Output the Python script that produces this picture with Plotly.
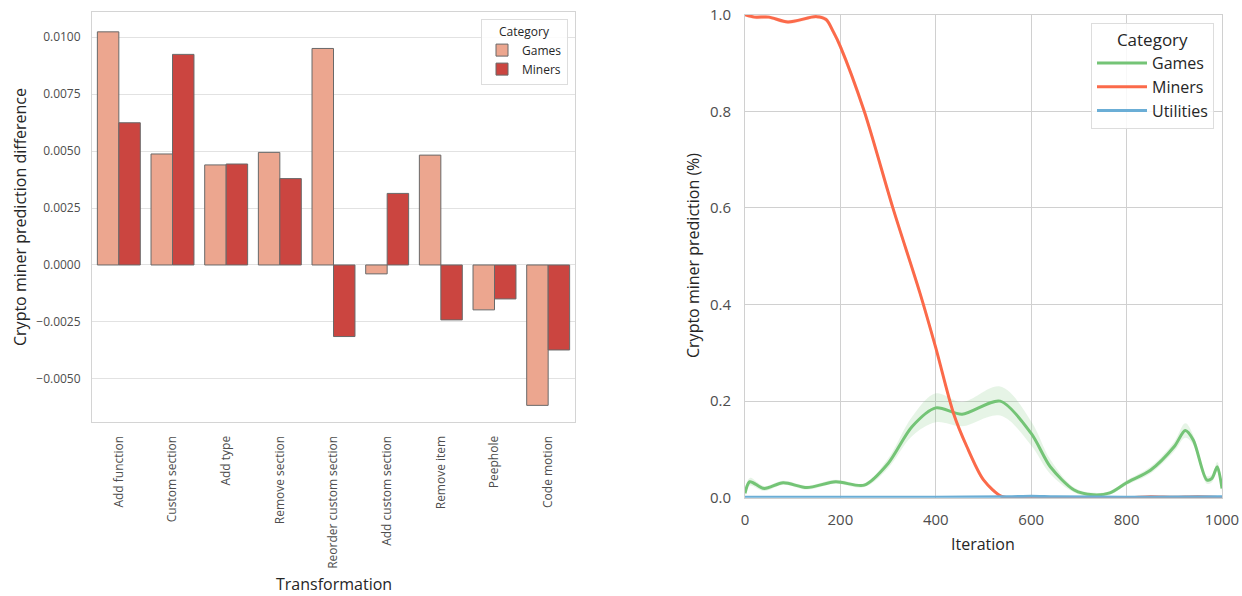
import plotly.graph_objects as go

# ---- Left panel: prediction difference per transformation ----
transformations = ["Add function", "Custom section", "Add type", "Remove section",
                   "Reorder custom section", "Add custom section", "Remove item",
                   "Peephole", "Code motion"]
games_diff = [0.01023, 0.00487, 0.00439, 0.00494, 0.00950, -0.00039, 0.00482, -0.00197, -0.00616]
miners_diff = [0.00624, 0.00924, 0.00443, 0.00379, -0.00314, 0.00314, -0.00241, -0.00149, -0.00373]
diff_ticks = [-0.005, -0.0025, 0.0, 0.0025, 0.005, 0.0075, 0.01]

# ---- Right panel: prediction over iterations ----
games_iter = [0, 10, 40, 80, 130, 190, 250, 300, 350, 400, 455, 535, 600, 640, 690, 730,
              765, 800, 850, 900, 923, 940, 968, 979, 990, 1000]
games_mean = [0.009, 0.033, 0.019, 0.031, 0.021, 0.033, 0.026, 0.071, 0.147, 0.186, 0.173,
              0.200, 0.133, 0.064, 0.016, 0.006, 0.010, 0.031, 0.057, 0.106, 0.139, 0.119,
              0.037, 0.040, 0.064, 0.019]
games_low = [0.004, 0.025, 0.014, 0.027, 0.017, 0.029, 0.022, 0.061, 0.127, 0.156, 0.148,
             0.170, 0.108, 0.049, 0.011, 0.002, 0.006, 0.026, 0.050, 0.096, 0.124, 0.109,
             0.029, 0.032, 0.054, 0.011]
games_high = [0.014, 0.041, 0.024, 0.035, 0.025, 0.037, 0.030, 0.081, 0.167, 0.216, 0.198,
              0.230, 0.158, 0.079, 0.021, 0.010, 0.014, 0.036, 0.064, 0.116, 0.154, 0.129,
              0.045, 0.048, 0.074, 0.027]

miners_iter = [0, 20, 50, 90, 150, 170, 185, 200, 250, 310, 367, 400, 437, 465, 500, 540,
               600, 700, 800, 850, 900, 950, 1000]
miners_mean = [1.0, 0.995, 0.995, 0.985, 0.996, 0.99, 0.965, 0.934, 0.80, 0.60, 0.423, 0.31,
               0.175, 0.106, 0.037, 0.002, 0.0, 0.0, 0.0, 0.002, 0.001, 0.002, 0.0]
miners_low = [0.997, 0.991, 0.991, 0.981, 0.992, 0.985, 0.958, 0.926, 0.792, 0.592, 0.415,
              0.302, 0.168, 0.100, 0.033, 0.0, 0.0, 0.0, 0.0, 0.0, 0.0, 0.0, 0.0]
miners_high = [1.0, 0.999, 0.999, 0.989, 1.0, 0.995, 0.972, 0.942, 0.808, 0.608, 0.431,
               0.318, 0.182, 0.112, 0.041, 0.004, 0.001, 0.001, 0.001, 0.004, 0.003, 0.004, 0.001]

utilities_iter = [0, 200, 400, 550, 600, 650, 800, 1000]
utilities_mean = [0.001, 0.001, 0.001, 0.002, 0.003, 0.002, 0.001, 0.002]

iter_ticks = [0, 200, 400, 600, 800, 1000]
pred_ticks = [0.0, 0.2, 0.4, 0.6, 0.8, 1.0]

FONT = "Open Sans"
TICK_COLOR = "#4d4d4d"
TEXT_COLOR = "#262626"

GAMES_BAR = "rgb(236,166,143)"
MINERS_BAR = "rgb(203,69,64)"
GAMES_LINE = "#74c476"
MINERS_LINE = "#fb6a4a"
UTIL_LINE = "#6baed6"

fig = go.Figure()

bar_edge = dict(color="rgb(105,105,105)", width=1)
fig.add_trace(go.Bar(x=transformations, y=games_diff, name="Games",
                     marker=dict(color=GAMES_BAR, line=bar_edge),
                     xaxis="x", yaxis="y", legend="legend"))
fig.add_trace(go.Bar(x=transformations, y=miners_diff, name="Miners",
                     marker=dict(color=MINERS_BAR, line=bar_edge),
                     xaxis="x", yaxis="y", legend="legend"))


def add_band(xs, lo, hi, color):
    fig.add_trace(go.Scatter(x=xs, y=hi, mode="lines", line=dict(width=0, shape="spline"),
                             showlegend=False, hoverinfo="skip", xaxis="x2", yaxis="y2"))
    fig.add_trace(go.Scatter(x=xs, y=lo, mode="lines", line=dict(width=0, shape="spline"),
                             fill="tonexty", fillcolor=color, showlegend=False,
                             hoverinfo="skip", xaxis="x2", yaxis="y2"))


add_band(games_iter, games_low, games_high, "rgba(116,196,118,0.18)")
fig.add_trace(go.Scatter(x=games_iter, y=games_mean, mode="lines", name="Games",
                         line=dict(color=GAMES_LINE, width=3, shape="spline", smoothing=0.8),
                         xaxis="x2", yaxis="y2", legend="legend2"))
add_band(miners_iter, miners_low, miners_high, "rgba(251,106,74,0.18)")
fig.add_trace(go.Scatter(x=miners_iter, y=miners_mean, mode="lines", name="Miners",
                         line=dict(color=MINERS_LINE, width=3, shape="spline", smoothing=0.8),
                         xaxis="x2", yaxis="y2", legend="legend2"))
fig.add_trace(go.Scatter(x=utilities_iter, y=utilities_mean, mode="lines", name="Utilities",
                         line=dict(color=UTIL_LINE, width=3, shape="spline", smoothing=0.8),
                         xaxis="x2", yaxis="y2", legend="legend2"))

W, H = 1242, 596


def px_x(p):
    return p / W


def px_y(p):
    return 1 - p / H


fig.update_layout(
    width=W, height=H,
    margin=dict(l=0, r=0, t=0, b=0),
    paper_bgcolor="white", plot_bgcolor="white",
    font=dict(family=FONT, color=TICK_COLOR),
    barmode="group", bargap=0.2, bargroupgap=0,
    xaxis=dict(domain=[px_x(92), px_x(575)], anchor="y", type="category",
               tickangle=-90, tickfont=dict(size=12, color=TICK_COLOR),
               showgrid=False, showline=True, mirror=True, linecolor="#d4d4d4",
               linewidth=1, ticks="", ticklabelstandoff=8, automargin=False,
               range=[-0.5, 8.5], fixedrange=True),
    yaxis=dict(domain=[px_y(422), px_y(12)], anchor="x", range=[-0.00689, 0.0111],
               tickvals=diff_ticks, tickformat=".4f", tickfont=dict(size=12, color=TICK_COLOR),
               showgrid=True, gridcolor="#e2e2e2", gridwidth=1, zeroline=False,
               showline=True, mirror=True, linecolor="#d4d4d4", linewidth=1,
               ticks="", ticklabelstandoff=8, automargin=False),
    xaxis2=dict(domain=[px_x(745), px_x(1222)], anchor="y2", range=[0, 1000],
                tickvals=iter_ticks, tickfont=dict(size=15, color=TICK_COLOR),
                showgrid=True, gridcolor="#d0d0d0", gridwidth=1, zeroline=False,
                showline=True, mirror=True, linecolor="#d0d0d0", ticks="",
                ticklabelstandoff=8, automargin=False),
    yaxis2=dict(domain=[px_y(497.7), px_y(14.7)], anchor="x2", range=[0, 1.0],
                tickvals=pred_ticks, tickformat=".1f", tickfont=dict(size=15, color=TICK_COLOR),
                showgrid=True, gridcolor="#d0d0d0", gridwidth=1, zeroline=False,
                showline=True, mirror=True, linecolor="#d0d0d0", ticks="",
                ticklabelstandoff=10, automargin=False),
    legend=dict(x=px_x(568), y=px_y(19), xanchor="right", yanchor="top",
                traceorder="normal",
                title=dict(text="Category", side="top center",
                           font=dict(size=12, color=TEXT_COLOR)),
                font=dict(size=12, color=TEXT_COLOR), bgcolor="rgba(255,255,255,0.85)",
                bordercolor="#dddddd", borderwidth=1, itemwidth=30,
                tracegroupgap=2),
    legend2=dict(x=px_x(1214), y=px_y(23), xanchor="right", yanchor="top",
                 traceorder="normal",
                 title=dict(text="Category", side="top center",
                            font=dict(size=17, color=TEXT_COLOR)),
                 font=dict(size=16, color=TEXT_COLOR), bgcolor="rgba(255,255,255,0.85)",
                 bordercolor="#dddddd", borderwidth=1, itemwidth=50),
    annotations=[
        dict(text="Crypto miner prediction difference", x=px_x(20), y=px_y(217),
             xref="paper", yref="paper", textangle=-90, showarrow=False,
             font=dict(size=16, color=TEXT_COLOR), xanchor="center", yanchor="middle"),
        dict(text="Transformation", x=px_x(333.5), y=px_y(584), xref="paper", yref="paper",
             showarrow=False, font=dict(size=16, color=TEXT_COLOR),
             xanchor="center", yanchor="middle"),
        dict(text="Crypto miner prediction (%)", x=px_x(693), y=px_y(256),
             xref="paper", yref="paper", textangle=-90, showarrow=False,
             font=dict(size=16, color=TEXT_COLOR), xanchor="center", yanchor="middle"),
        dict(text="Iteration", x=px_x(983), y=px_y(544), xref="paper", yref="paper",
             showarrow=False, font=dict(size=16, color=TEXT_COLOR),
             xanchor="center", yanchor="middle"),
    ],
)

fig.write_html("out.html")
